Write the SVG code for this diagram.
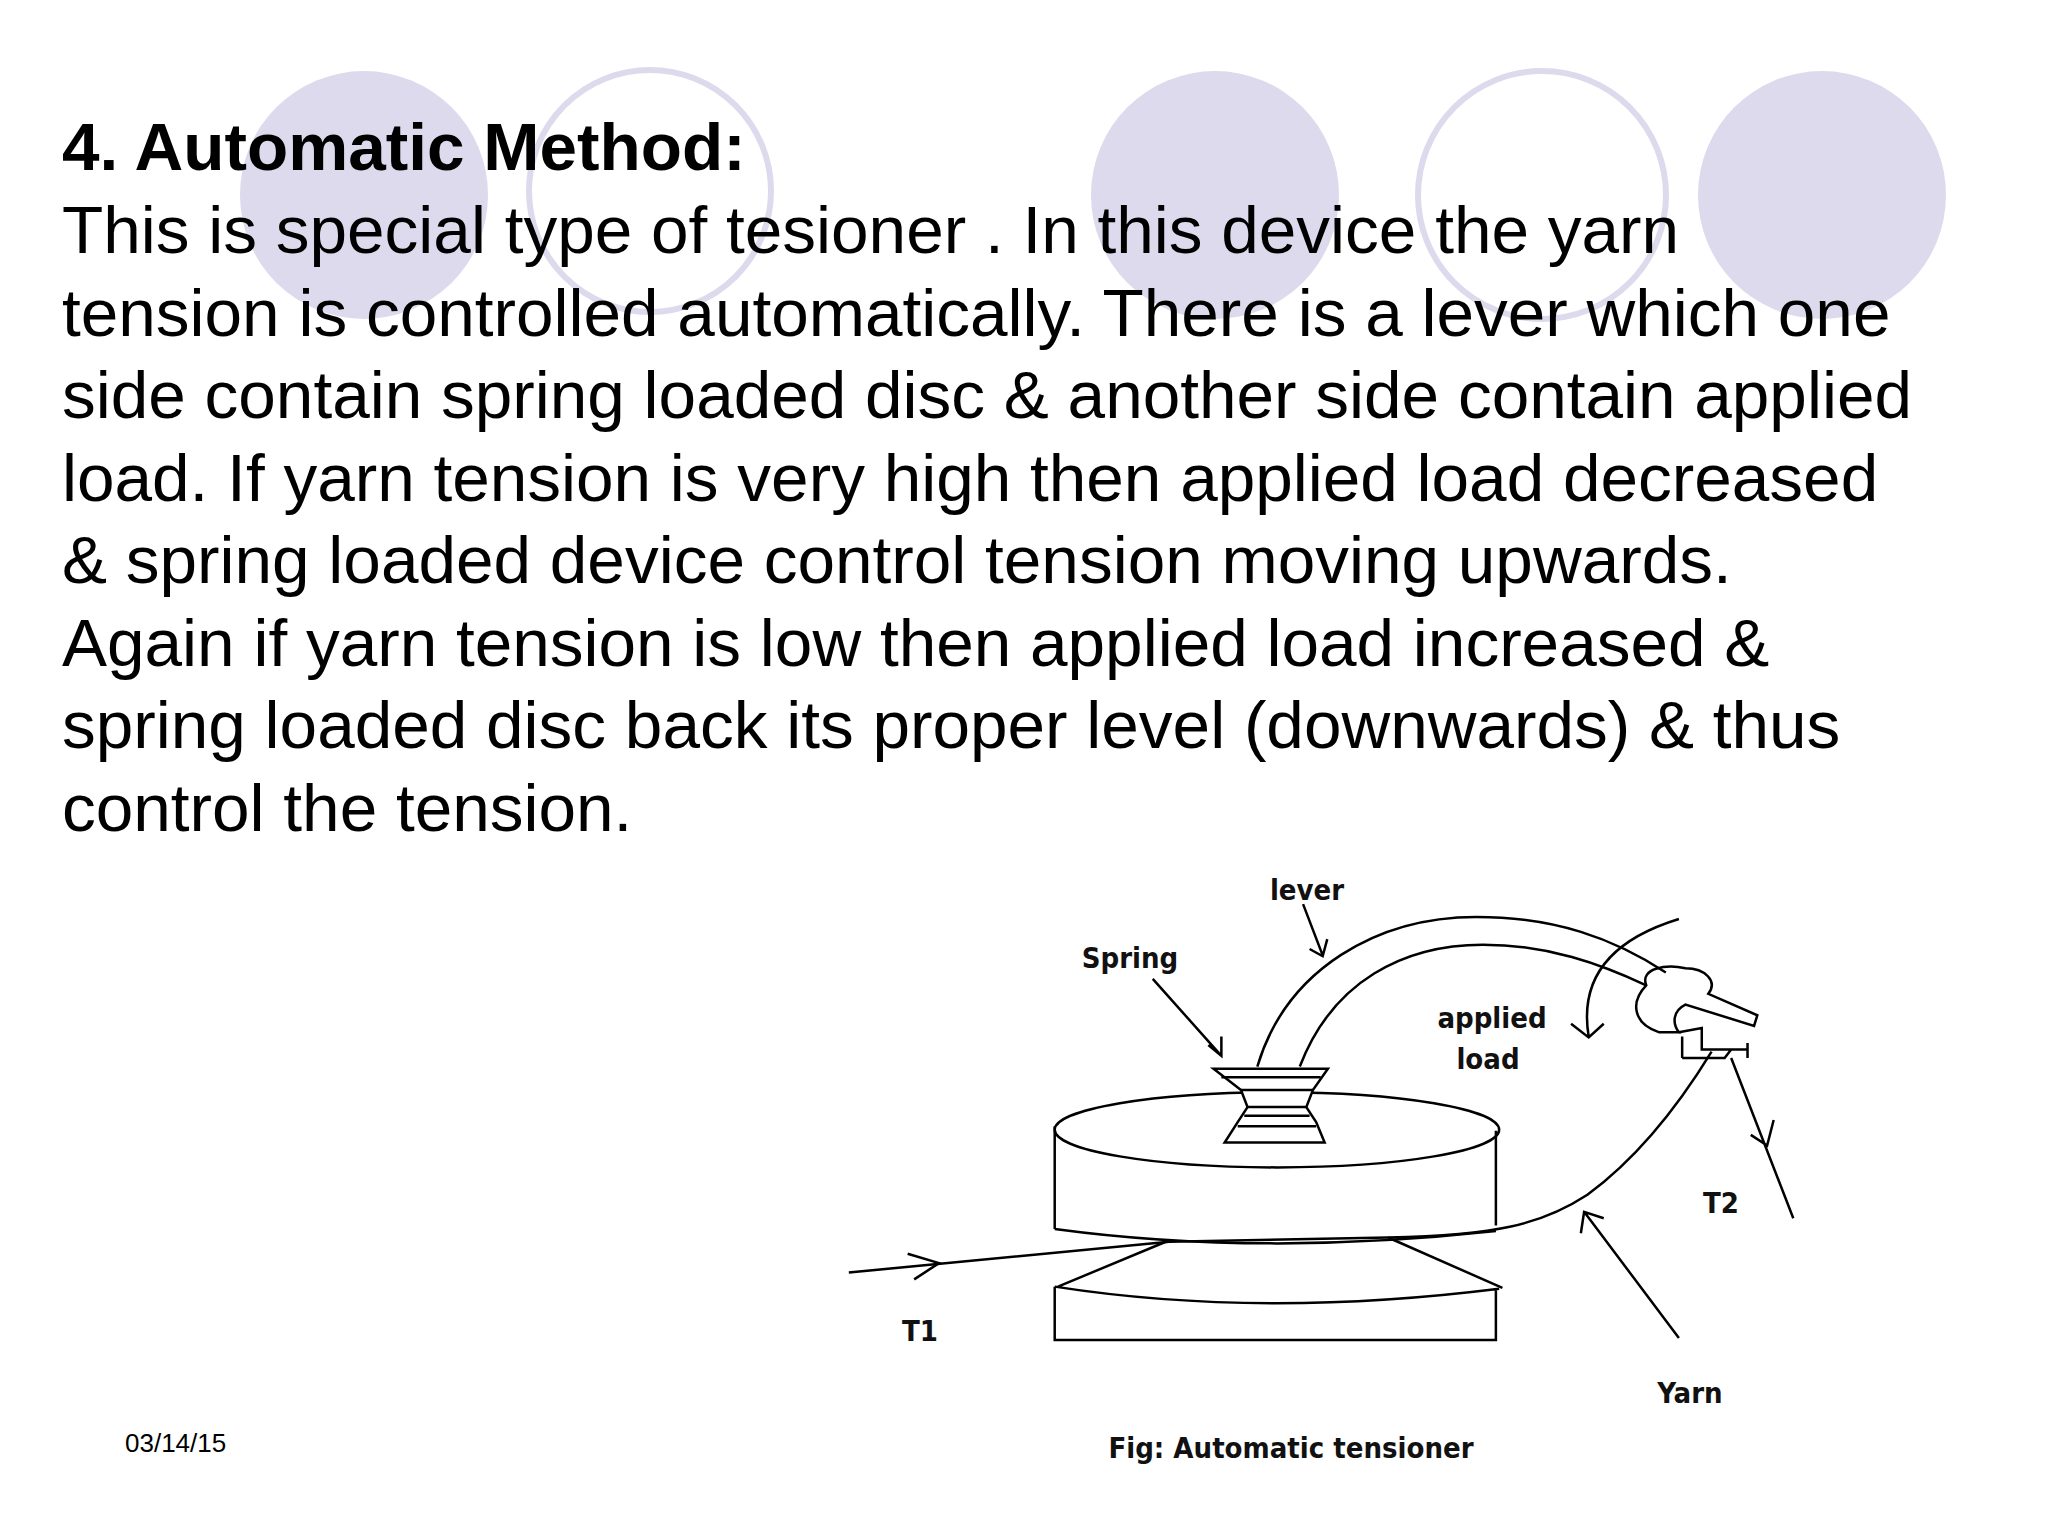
<svg xmlns="http://www.w3.org/2000/svg" width="2048" height="1536" viewBox="0 0 2048 1536">
<style>
.fc{fill:#dcdaec}
.oc{fill:none;stroke:#dcdaec;stroke-width:6}
.body{font-family:"Liberation Sans",Arial,sans-serif;font-size:67.5px;fill:#000}
.lbl{font-family:"DejaVu Sans Condensed","DejaVu Sans",sans-serif;font-weight:bold;font-size:29px;fill:#111;text-anchor:middle}
.ln{fill:none;stroke:#000;stroke-width:2.5;vector-effect:non-scaling-stroke}
</style>
<rect width="2048" height="1536" fill="#fff"/>
<g id="decor">
<circle class="fc" cx="364" cy="195" r="124"/>
<circle class="oc" cx="650" cy="191" r="121"/>
<circle class="fc" cx="1215" cy="195" r="124"/>
<circle class="oc" cx="1542" cy="195" r="124"/>
<circle class="fc" cx="1822" cy="195" r="124"/>
</g>
<g id="text">
<text x="62" y="170" class="body" font-weight="bold">4. Automatic Method:</text>
<text class="body" x="62" y="253">This is special type of tesioner . In this device the yarn</text>
<text class="body" x="62" y="336">tension is controlled automatically. There is a lever which one</text>
<text class="body" x="62" y="418">side contain spring loaded disc &amp; another side contain applied</text>
<text class="body" x="62" y="501">load. If yarn tension is very high then applied load decreased</text>
<text class="body" x="62" y="583">&amp; spring loaded device control tension moving upwards.</text>
<text class="body" x="62" y="666">Again if yarn tension is low then applied load increased &amp;</text>
<text class="body" x="62" y="748">spring loaded disc back its proper level (downwards) &amp; thus</text>
<text class="body" x="62" y="831">control the tension.</text>
<text x="125" y="1452" font-family="Liberation Sans,Arial,sans-serif" font-size="26">03/14/15</text>
</g>
<g id="figure" transform="translate(790,840) scale(0.6536,0.4274)">
<ellipse class="ln" cx="745" cy="678" rx="340" ry="88"/>
<path class="ln" d="M405,670 V910 M1080,680 V902 M405,910 Q720,975 1080,915"/>
<path class="ln" d="M575,940 L410,1045 M915,930 L1090,1048 M405,1045 Q720,1120 1085,1050 M405,1045 V1170 H1080 V1050"/>
<path class="ln" style="fill:#fff" d="M648,535 H823 L800,585 L790,625 L805,660 L818,708 H665 L685,660 L700,625 L690,585 Z"/>
<path class="ln" d="M660,555 H812 M690,585 H800 M700,625 H790 M695,645 H795 M685,670 H805"/>
<path class="ln" d="M715,530 C760,300 900,180 1050,180 C1170,180 1260,230 1340,310"/>
<path class="ln" d="M780,530 C830,330 940,245 1060,245 C1160,245 1240,290 1310,340"/>
<path class="ln" d="M1310,340 C1300,300 1340,290 1370,300 C1400,300 1420,330 1405,360 L1480,410 L1475,435 L1370,385 C1350,400 1350,430 1360,450 L1330,450 C1290,430 1285,380 1310,340 Z"/>
<path class="ln" d="M1360,450 L1395,440 V490 H1465 M1365,510 V460 M1365,510 H1430 L1440,490 M1465,475 V510"/>
<path class="ln" d="M1360,185 Q1200,260 1222,460 M1195,430 L1222,462 L1245,430"/>
<path class="ln" d="M785,150 L815,270 M795,255 L815,272 L822,232"/>
<path class="ln" d="M555,325 L660,505 M640,480 L660,505 L660,460"/>
<path class="ln" d="M90,1012 L580,940 L915,930 C1080,925 1150,900 1220,830 C1300,740 1360,620 1410,495"/>
<path class="ln" d="M180,968 L228,990 L190,1028"/>
<path class="ln" d="M1440,510 L1535,885 M1470,690 L1495,715 L1505,655"/>
<path class="ln" d="M1360,1165 L1215,870 M1210,920 L1215,870 L1245,885"/>
</g>
<g id="labels">
<text class="lbl" x="1307" y="900">lever</text>
<text class="lbl" x="1130" y="968">Spring</text>
<text class="lbl" x="1492" y="1028">applied</text>
<text class="lbl" x="1488" y="1069">load</text>
<text class="lbl" x="1721" y="1213">T2</text>
<text class="lbl" x="920" y="1341">T1</text>
<text class="lbl" x="1690" y="1403">Yarn</text>
<text class="lbl" x="1291" y="1458" font-size="34">Fig: Automatic tensioner</text>
</g>
</svg>
